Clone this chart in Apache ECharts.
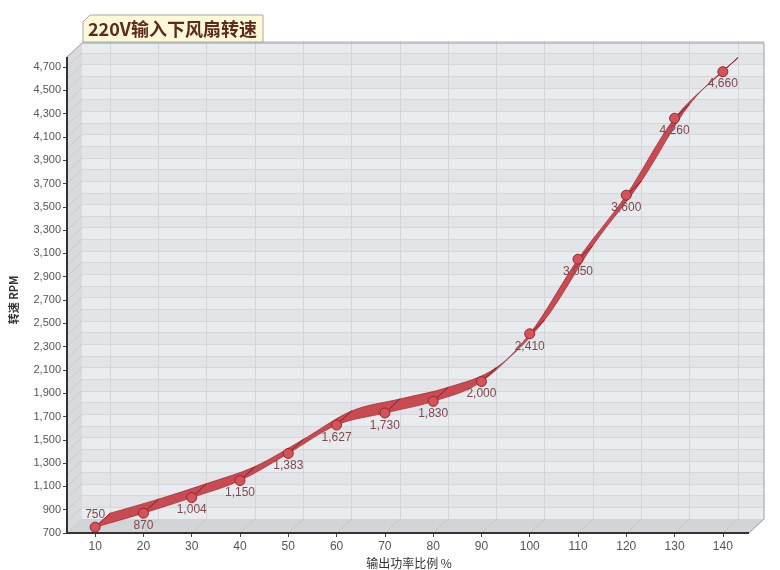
<!DOCTYPE html>
<html><head><meta charset="utf-8">
<script src="https://cdn.jsdelivr.net/npm/echarts@6/dist/echarts.min.js"></script>
<style>html,body{margin:0;padding:0;background:#fff}#c{width:780px;height:570px}</style>
</head><body><div id="c"></div>
<script>
// ---- data ----
const categories = ['10','20','30','40','50','60','70','80','90','100','110','120','130','140'];
const rpm = [750, 870, 1004, 1150, 1383, 1627, 1730, 1830, 2000, 2410, 3050, 3600, 4260, 4660];
const labelPos = ['top','bottom','bottom','bottom','bottom','bottom','bottom','bottom','bottom','bottom','bottom','bottom','bottom','bottom'];
const yMin = 700, yMax = 4700, yStep = 200, bandStep = 100;
const titleText = '220V输入下风扇转速';
const xName = '输出功率比例 %';
const yName = '转速 RPM';

// ---- layout ----
const W = 780, HH = 570;
const FL = 71, FR = 33, FT = 67, FB = 37;      // front plot area
const AX = 67;                                  // front y-axis line x
const DX = 15, DY = 14;                         // 3D depth offset (right, up)
const PH = HH - FT - FB;                        // plot height
const backTop = FT - DY - bandStep * PH / (yMax - yMin);
const xEnd = W - FR + 2;                        // front right edge
const fontLatin = "'Liberation Sans', Arial, 'Noto Sans CJK SC', sans-serif";
const fontCJK = "'Noto Sans CJK SC', 'Liberation Sans', sans-serif";

const fmt = v => String(v).replace(/\B(?=(\d{3})+(?!\d))/g, ',');

function renderRibbon(params, api) {
  const i = params.dataIndex, n = rpm.length;
  const P = k => { k = Math.max(0, Math.min(n - 1, k)); return api.coord([k, rpm[k]]); };
  const b = q => [q[0] + DX, q[1] - DY];
  const s = q => q[0].toFixed(2) + ' ' + q[1].toFixed(2);
  const children = [];
  const p0 = P(i - 1), p1 = P(i), p2 = P(i + 1), p3 = P(i + 2);
  if (i < n - 1) {
    const c1 = [p1[0] + (p2[0] - p0[0]) / 6, p1[1] + (p2[1] - p0[1]) / 6];
    const c2 = [p2[0] - (p3[0] - p1[0]) / 6, p2[1] - (p3[1] - p1[1]) / 6];
    const d = 'M' + s(p1) + ' C' + s(c1) + ' ' + s(c2) + ' ' + s(p2) +
              ' L' + s(b(p2)) + ' C' + s(b(c2)) + ' ' + s(b(c1)) + ' ' + s(b(p1)) + ' Z';
    children.push({type: 'path', shape: {pathData: d},
      style: {fill: '#c94a51', stroke: '#a3323a', lineWidth: 0.8}});
  }
  const q = b(p1);
  children.push({type: 'line', shape: {x1: p1[0], y1: p1[1], x2: q[0], y2: q[1]},
    style: {stroke: '#8c2329', lineWidth: 1}});
  return {type: 'group', children};
}

const chart = echarts.init(document.getElementById('c'), null, {renderer: 'canvas'});

const option = {
  animation: false,
  backgroundColor: '#ffffff',
  grid: [
    {left: FL, right: FR, top: FT, bottom: FB, outerBoundsMode: 'none', containLabel: false},
    {left: FL + DX, right: FR - DX, top: backTop, bottom: FB + DY, outerBoundsMode: 'none', containLabel: false},
    {left: AX + DX, right: W - (xEnd + DX), top: backTop, bottom: FB + DY, outerBoundsMode: 'none', containLabel: false}
  ],
  xAxis: [
    {type: 'category', gridIndex: 0, data: categories, boundaryGap: true,
     axisLine: {show: false},
     axisTick: {show: true, alignWithLabel: true, length: 4, lineStyle: {color: '#444'}},
     axisLabel: {color: '#555', fontSize: 12, margin: 8, fontFamily: fontLatin},
     name: xName, nameLocation: 'middle', nameGap: 22,
     nameTextStyle: {color: '#333', fontSize: 12, fontFamily: fontCJK},
     splitLine: {show: false}},
    {type: 'category', gridIndex: 1, data: categories, boundaryGap: true,
     axisLine: {show: false}, axisTick: {show: false}, axisLabel: {show: false},
     splitLine: {show: true, alignWithLabel: true, lineStyle: {color: '#d3d5d8', width: 1}}},
    {type: 'value', gridIndex: 2, min: 0, max: 1, show: false, splitLine: {show: false}}
  ],
  yAxis: [
    {type: 'value', gridIndex: 0, min: yMin, max: yMax, interval: yStep, offset: FL - AX,
     axisLine: {show: false},
     axisTick: {show: true, length: 4, lineStyle: {color: '#444'}},
     axisLabel: {color: '#555', fontSize: 11, margin: 6, fontFamily: fontLatin,
                 formatter: v => fmt(v)},
     splitLine: {show: false},
     name: yName, nameLocation: 'middle', nameGap: 48, nameRotate: 90,
     nameTextStyle: {color: '#333', fontSize: 11, fontWeight: 'bold', fontFamily: fontCJK}},
    {type: 'value', gridIndex: 1, min: yMin, max: yMax + bandStep, show: false, splitLine: {show: false}},
    {type: 'value', gridIndex: 2, min: yMin, max: yMax + bandStep, interval: bandStep,
     axisLine: {show: false}, axisTick: {show: false}, axisLabel: {show: false},
     splitLine: {show: true, lineStyle: {color: '#d5d7da'}},
     splitArea: {show: true, areaStyle: {color: ['#e9ecef', '#e2e4e7']}}}
  ],
  series: [
    {type: 'custom', xAxisIndex: 0, yAxisIndex: 0, z: 3, silent: true,
     renderItem: renderRibbon,
     data: rpm.map((v, i) => [i, v]), encode: {x: 0, y: 1}},
    {type: 'line', xAxisIndex: 0, yAxisIndex: 0, z: 5, silent: true,
     data: rpm.map((v, i) => ({value: v, label: {position: labelPos[i]}})),
     lineStyle: {opacity: 0, width: 0},
     symbol: 'circle', symbolSize: 10, showAllSymbol: true,
     itemStyle: {color: '#d4535a', borderColor: '#96262d', borderWidth: 1},
     label: {show: true, distance: 1, color: '#7d4a50', fontSize: 12, fontFamily: fontLatin,
             formatter: p => fmt(p.value)}}
  ]
};
chart.setOption(option);

// walls and frame from axis layout
const yTop = FT - 10;  // top of front box edge
const x0 = AX, yBot = HH - FB;
const wallLines = [];
for (let v = yMin; v <= yMax; v += bandStep) {
  const y = chart.convertToPixel({gridIndex: 0}, [0, v])[1];
  wallLines.push({type: 'line', z: 2, shape: {x1: x0, y1: y, x2: x0 + DX, y2: y - DY},
    style: {stroke: '#c9cbce', lineWidth: 1}});
}
const floorLines = [];
for (let i = 0; i < categories.length; i++) {
  const x = chart.convertToPixel({gridIndex: 0}, [i, yMin])[0];
  floorLines.push({type: 'line', z: 2, shape: {x1: x, y1: yBot, x2: x + DX, y2: yBot - DY},
    style: {stroke: '#c4c6c9', lineWidth: 1}});
}
const tL = 83, tT = 15, tR = 263, tB = 42, cut = 7;
chart.setOption({
  graphic: [
    {type: 'rect', z: -5, shape: {x: x0 + DX, y: backTop, width: xEnd - x0, height: yBot - DY - backTop},
     style: {fill: '#e5e7ea'}},
    {type: 'polygon', z: 1, shape: {points: [[x0, yBot], [x0, yTop], [x0 + DX, yTop - DY], [x0 + DX, yBot - DY]]},
     style: {fill: '#d8dadd'}},
    {type: 'polygon', z: 1, shape: {points: [[x0, yBot], [xEnd, yBot], [xEnd + DX, yBot - DY], [x0 + DX, yBot - DY]]},
     style: {fill: '#d2d4d7'}},
    ...wallLines, ...floorLines,
    {type: 'polyline', z: 4, shape: {points: [[x0, yTop], [x0 + DX, yTop - DY], [xEnd + DX, yTop - DY], [xEnd + DX, yBot - DY], [xEnd, yBot]]},
     style: {stroke: '#9a9c9f', lineWidth: 1, fill: null}},
    {type: 'line', z: 4, shape: {x1: x0, y1: yBot, x2: x0, y2: yTop}, style: {stroke: '#333', lineWidth: 2}},
    {type: 'line', z: 4, shape: {x1: x0, y1: yBot, x2: xEnd, y2: yBot}, style: {stroke: '#333', lineWidth: 2}},
    {type: 'polygon', z: 10, shape: {points: [[tL, tT + cut], [tL + cut, tT], [tR, tT], [tR, tB], [tL, tB]]},
     style: {fill: '#fdf8d6', stroke: '#a8a8a8', lineWidth: 1}},
    {type: 'text', z: 11, style: {x: tL + 5, y: (tT + tB) / 2 + 1, text: titleText, textVerticalAlign: 'middle',
      verticalAlign: 'middle', fill: '#5e2a1c', font: "bold 18px 'Noto Sans CJK SC', 'Liberation Sans', sans-serif"}}
  ]
});
</script></body></html>
